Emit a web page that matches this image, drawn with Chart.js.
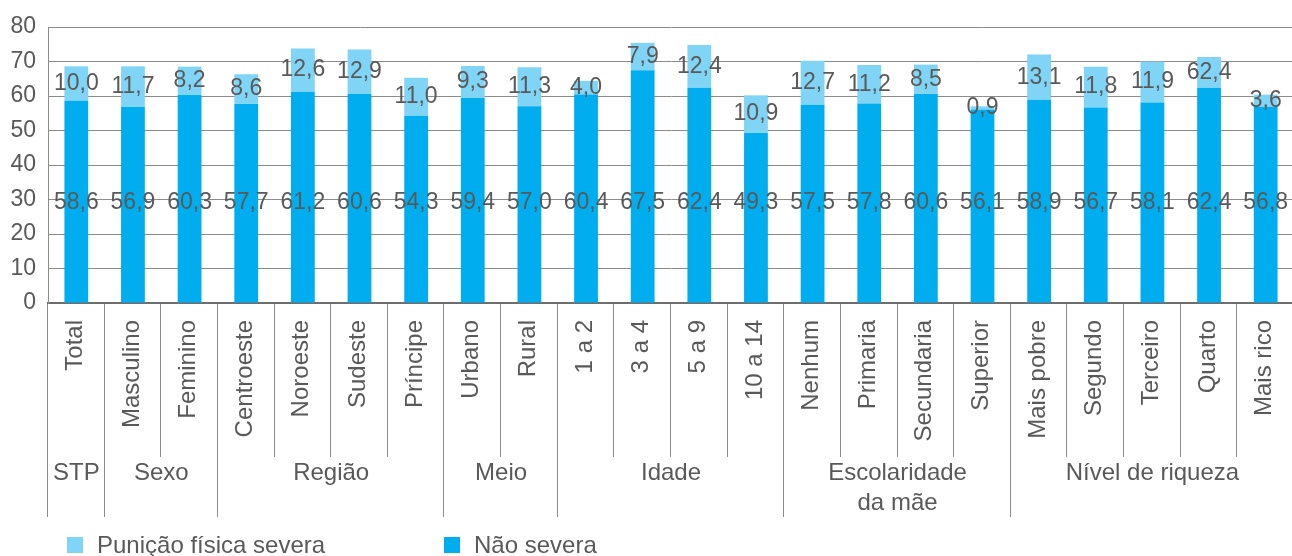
<!DOCTYPE html>
<html>
<head>
<meta charset="utf-8">
<script src="https://cdn.jsdelivr.net/npm/chart.js"></script>
<style>
  html, body { margin: 0; padding: 0; background: #fff; overflow: hidden; }
  canvas { display: block; }
</style>
</head>
<body>
<canvas id="chart" width="1294" height="556"></canvas>
<script>
const categorias = ['Total', 'Masculino', 'Feminino', 'Centroeste', 'Noroeste', 'Sudeste', 'Príncipe',
  'Urbano', 'Rural', '1 a 2', '3 a 4', '5 a 9', '10 a 14', 'Nenhum', 'Primaria', 'Secundaria',
  'Superior', 'Mais pobre', 'Segundo', 'Terceiro', 'Quarto', 'Mais rico'];

const grupos = [['STP'], ['Sexo'], ['Região'], ['Meio'], ['Idade'], ['Escolaridade', 'da mãe'], ['Nível de riqueza']];
const gruposTamanho = [1, 2, 4, 2, 4, 4, 5];

const naoSevera = [58.6, 56.9, 60.3, 57.7, 61.2, 60.6, 54.3, 59.4, 57.0, 60.4, 67.5, 62.4, 49.3,
  57.5, 57.8, 60.6, 56.1, 58.9, 56.7, 58.1, 62.4, 56.8];
const punicaoSevera = [10.0, 11.7, 8.2, 8.6, 12.6, 12.9, 11.0, 9.3, 11.3, 4.0, 7.9, 12.4, 10.9,
  12.7, 11.2, 8.5, 0.9, 13.1, 11.8, 11.9, 8.9, 3.6];
// rotulos impressos no topo das barras (o do "Quarto" vem assim da fonte)
const punicaoSeveraRotulos = ['10,0', '11,7', '8,2', '8,6', '12,6', '12,9', '11,0', '9,3', '11,3',
  '4,0', '7,9', '12,4', '10,9', '12,7', '11,2', '8,5', '0,9', '13,1', '11,8', '11,9', '62,4', '3,6'];

const COR_ESCURA = '#00aeef';
const COR_CLARA = '#80d4f6';
const COR_TEXTO = '#595959';
const COR_LINHA = '#8c8c8c';
const FONTE = '"Liberation Sans", Arial, sans-serif';
const LINHA_ROTULOS_BASE = 29; // altura (em %) onde ficam os valores "Não severa"

const fmt = v => v.toFixed(1).replace('.', ',');

const rotulosBarras = {
  id: 'rotulosBarras',
  afterDatasetsDraw(chart) {
    const { ctx, scales: { y } } = chart;
    ctx.save();
    ctx.font = '23px ' + FONTE;
    ctx.fillStyle = COR_TEXTO;
    ctx.textAlign = 'center';
    ctx.textBaseline = 'middle';
    chart.getDatasetMeta(0).data.forEach((bar, i) => {
      ctx.fillText(fmt(naoSevera[i]), bar.x, y.getPixelForValue(LINHA_ROTULOS_BASE));
    });
    chart.getDatasetMeta(1).data.forEach((bar, i) => {
      ctx.fillText(punicaoSeveraRotulos[i], bar.x, (bar.y + bar.base) / 2);
    });
    ctx.restore();
  }
};

const eixoCategorias = {
  id: 'eixoCategorias',
  afterDraw(chart) {
    const { ctx, chartArea, scales: { x } } = chart;
    const base = chartArea.bottom;
    const passo = x.width / categorias.length;
    const limites = new Set([0]);
    let acc = 0;
    gruposTamanho.forEach(n => { acc += n; limites.add(acc); });

    ctx.save();
    ctx.strokeStyle = COR_LINHA;
    ctx.lineWidth = 1;
    for (let i = 0; i <= categorias.length; i++) {
      const px = Math.round(x.left + i * passo) - 0.5;
      const fim = limites.has(i) ? 517 : 457;
      ctx.beginPath();
      ctx.moveTo(px, base + 1);
      ctx.lineTo(px, fim);
      ctx.stroke();
    }

    ctx.fillStyle = COR_TEXTO;
    ctx.font = '24px ' + FONTE;
    ctx.textAlign = 'right';
    ctx.textBaseline = 'middle';
    categorias.forEach((nome, i) => {
      ctx.save();
      ctx.translate(x.getPixelForValue(i) - 1, base + 17);
      ctx.rotate(-Math.PI / 2);
      ctx.fillText(nome, 0, 0);
      ctx.restore();
    });

    ctx.textAlign = 'center';
    let inicio = 0;
    grupos.forEach((linhas, g) => {
      const fimG = inicio + gruposTamanho[g];
      const cx = x.left + (inicio + fimG) / 2 * passo;
      linhas.forEach((t, k) => ctx.fillText(t, cx, 473 + k * 30));
      inicio = fimG;
    });

    // legenda
    const itens = [
      { texto: chart.data.datasets[1].label, cor: COR_CLARA, x: 67 },
      { texto: chart.data.datasets[0].label, cor: COR_ESCURA, x: 444 }
    ];
    ctx.textAlign = 'left';
    itens.forEach(it => {
      ctx.fillStyle = it.cor;
      ctx.fillRect(it.x, 537, 16, 16);
      ctx.fillStyle = COR_TEXTO;
      ctx.fillText(it.texto, it.x + 30, 546);
    });
    ctx.restore();
  }
};

new Chart(document.getElementById('chart'), {
  type: 'bar',
  data: {
    labels: categorias,
    datasets: [
      { label: 'Não severa', data: naoSevera, backgroundColor: COR_ESCURA },
      { label: 'Punição física severa', data: punicaoSevera, backgroundColor: COR_CLARA }
    ]
  },
  options: {
    responsive: false,
    animation: false,
    layout: { padding: { top: 27, left: 0, right: 0, bottom: 0 } },
    datasets: { bar: { barPercentage: 0.42, categoryPercentage: 1 } },
    plugins: {
      legend: { display: false },
      tooltip: { enabled: false },
      title: { display: false }
    },
    scales: {
      x: {
        stacked: true,
        grid: { display: false },
        ticks: { display: false },
        border: { display: true, color: '#6e6e6e', width: 2 },
        afterFit: s => { s.height = 253; }
      },
      y: {
        stacked: true,
        min: 0,
        max: 80,
        ticks: {
          stepSize: 10,
          padding: 12,
          color: COR_TEXTO,
          font: { family: FONTE, size: 23 }
        },
        grid: {
          drawTicks: false,
          color: ctx => ctx.tick.value === 0 ? 'rgba(0,0,0,0)' : COR_LINHA
        },
        border: { display: true, color: COR_LINHA, width: 1 },
        afterFit: s => { s.width = 48; }
      }
    }
  },
  plugins: [rotulosBarras, eixoCategorias]
});
</script>
</body>
</html>
